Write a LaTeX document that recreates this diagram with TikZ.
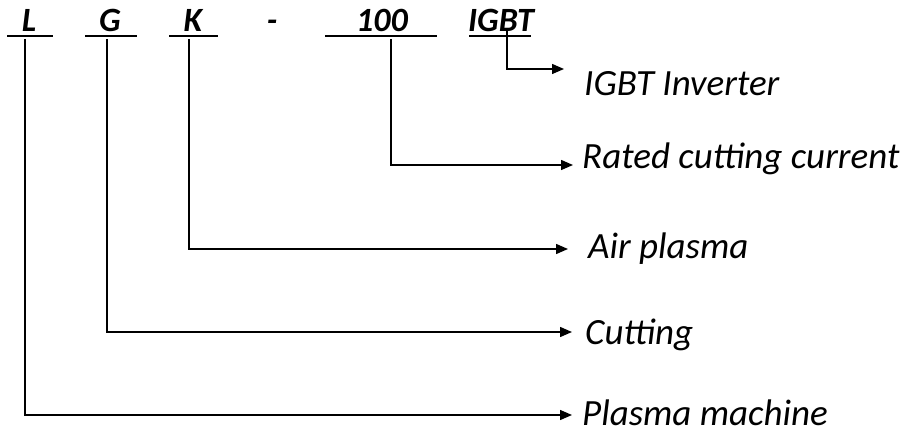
\documentclass[tikz,border=0pt]{standalone}
\usepackage{fontspec}
\setmainfont{Carlito}
\usetikzlibrary{arrows.meta}
\tikzstyle{every node}=[inner sep=0pt]
\tikzstyle{code}=[font=\fontsize{34}{40}\selectfont\bfseries\itshape,anchor=base]
\tikzstyle{meaning}=[font=\fontsize{37}{44}\selectfont\itshape,anchor=west,text height=23pt,text depth=0pt]
\tikzstyle{uline}=[line width=2pt]
\tikzstyle{conn}=[line width=1.4pt,-{Triangle[length=12pt,width=10pt]}]

\begin{document}
\begin{tikzpicture}[x=1pt,y=-1pt]
	\useasboundingbox (0,0) rectangle (907,430);
	% model code
	\node[code] (cL) at (29,32) {L};
	\node[code] (cG) at (110,32) {G};
	\node[code] (cK) at (193,32) {K};
	\node[code] (cDash) at (272,32) {-};
	\node[code] (c100) at (382,32) {100};
	\node[code] (cIGBT) at (501,32) {IGBT};
	\draw[uline] (7,36) -- (53,36);
	\draw[uline] (85,36) -- (137,36);
	\draw[uline] (169,36) -- (218,36);
	\draw[uline] (325,36) -- (437,36);
	\draw[uline] (469,36) -- (531,36);
	% where each line leaves the code
	\coordinate (sL) at (25,39);
	\coordinate (sG) at (107,39);
	\coordinate (sK) at (189,39);
	\coordinate (s100) at (391,39);
	\coordinate (sIGBT) at (507,28);
	% arrow tips
	\coordinate (tIGBT) at (564,69);
	\coordinate (tRated) at (573,165);
	\coordinate (tAir) at (568,249);
	\coordinate (tCut) at (572,332);
	\coordinate (tPlasma) at (572,415);
	% meanings
	\node[meaning] (mIGBT) at (584,84) {IGBT Inverter};
	\node[meaning] (mRated) at (582,157) {Rated cutting current};
	\node[meaning] (mAir) at (588,247) {Air plasma};
	\node[meaning] (mCut) at (585,333) {Cutting};
	\node[meaning] (mPlasma) at (582,414) {Plasma machine};
	\draw[conn] (sIGBT) |- (tIGBT);
	\draw[conn] (s100) |- (tRated);
	\draw[conn] (sK) |- (tAir);
	\draw[conn] (sG) |- (tCut);
	\draw[conn] (sL) |- (tPlasma);
\end{tikzpicture}
\end{document}
